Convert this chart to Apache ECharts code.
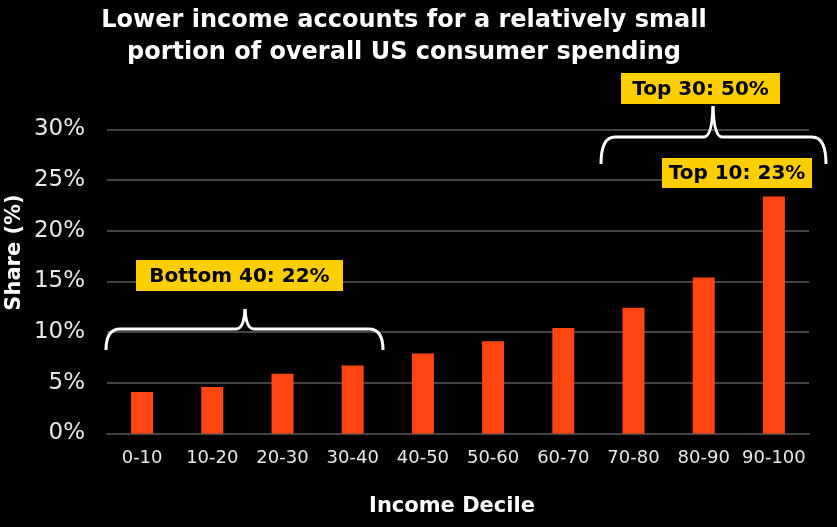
<!DOCTYPE html>
<html>
<head>
<meta charset="utf-8">
<script src="https://cdn.jsdelivr.net/npm/echarts@6/dist/echarts.min.js"></script>
<style>
  html, body { margin: 0; padding: 0; background: #000; }
  #main { width: 837px; height: 527px; }
</style>
</head>
<body>
<div id="main"></div>
<script>
// income deciles and their share of consumer spending (%)
var deciles = ['0-10', '10-20', '20-30', '30-40', '40-50', '50-60', '60-70', '70-80', '80-90', '90-100'];
var shares = [4.1, 4.6, 5.9, 6.7, 7.9, 9.1, 10.4, 12.4, 15.4, 23.4];
var yTicks = [0, 5, 10, 15, 20, 25, 30];

var FONT = 'DejaVu Sans';
var YELLOW = '#ffce00';

function labelBox(x, y, w, h, txt) {
    return {
        type: 'group',
        z: 100,
        children: [
            { type: 'rect', z: 100, shape: { x: x, y: y, width: w, height: h }, style: { fill: YELLOW } },
            {
                type: 'text', z: 101, x: x + w / 2, y: y + h / 2 + 1,
                style: {
                    text: txt, fill: '#000', font: 'bold 20px "DejaVu Sans"',
                    align: 'center', verticalAlign: 'middle'
                }
            }
        ]
    };
}

// curly brace: ends at x1/x2, flat part at yFlat, tips at yEnd, peak at yPeak
function brace(x1, x2, xm, yFlat, yEnd, yPeak) {
    var r = 14;
    var st = { stroke: '#fff', lineWidth: 3, fill: null };
    function seg(a, b, c, d) { return { type: 'line', z: 100, shape: { x1: a, y1: b, x2: c, y2: d }, style: st }; }
    function curve(a, b, c, d, cx, cy) {
        return { type: 'bezierCurve', z: 100, shape: { x1: a, y1: b, x2: c, y2: d, cpx1: cx, cpy1: cy }, style: st };
    }
    return {
        type: 'group',
        children: [
            curve(x1, yEnd, x1 + r, yFlat, x1, yFlat),
            seg(x1 + r, yFlat, xm - 9, yFlat),
            curve(xm - 9, yFlat, xm, yPeak, xm - 1, yFlat),
            curve(xm, yPeak, xm + 9, yFlat, xm + 1, yFlat),
            seg(xm + 9, yFlat, x2 - r, yFlat),
            curve(x2 - r, yFlat, x2, yEnd, x2, yFlat)
        ]
    };
}

var myChart = echarts.init(document.getElementById('main'));
var option = {
    backgroundColor: '#000',
    animation: false,
    title: {
        text: 'Lower income accounts for a relatively small\nportion of overall US consumer spending',
        left: 399, top: 0, textAlign: 'center',
        textStyle: { color: '#fff', fontFamily: FONT, fontWeight: 'bold', fontSize: 24, lineHeight: 32 }
    },
    grid: { left: 107, right: 28, top: 129.5, bottom: 93.5, outerBoundsMode: 'none', containLabel: false },
    xAxis: {
        type: 'category',
        data: deciles,
        name: 'Income Decile',
        nameLocation: 'middle',
        nameGap: 63,
        nameMoveOverlap: false,
        nameTextStyle: { color: '#fff', fontFamily: FONT, fontWeight: 'bold', fontSize: 21, padding: [0, 12, 0, 0] },
        axisLine: { lineStyle: { color: '#444', width: 2 } },
        axisTick: { show: false },
        axisLabel: { color: '#e8e8e8', fontFamily: FONT, fontSize: 18, margin: 16, interval: 0 }
    },
    yAxis: {
        type: 'value',
        min: yTicks[0], max: yTicks[yTicks.length - 1], interval: 5,
        name: 'Share (%)',
        nameLocation: 'middle',
        nameGap: 82,
        nameMoveOverlap: false,
        nameTextStyle: { color: '#fff', fontFamily: FONT, fontWeight: 'bold', fontSize: 21, padding: [0, 0, 0, 58] },
        axisLine: { show: false },
        axisTick: { show: false },
        axisLabel: { color: '#e8e8e8', fontFamily: FONT, fontSize: 23, margin: 22, formatter: '{value}%' },
        splitLine: { lineStyle: { color: '#444', width: 2 } }
    },
    series: [{
        type: 'bar',
        data: shares,
        barWidth: 22,
        itemStyle: { color: '#ff4612' }
    }],
    graphic: [
        brace(106, 383, 245, 329, 350, 309),
        brace(601, 826, 713, 137, 164, 106),
        labelBox(136, 260, 207, 31, 'Bottom 40: 22%'),
        labelBox(621, 73, 159, 31, 'Top 30: 50%'),
        labelBox(662, 158, 150, 30, 'Top 10: 23%')
    ]
};
myChart.setOption(option);
</script>
</body>
</html>
